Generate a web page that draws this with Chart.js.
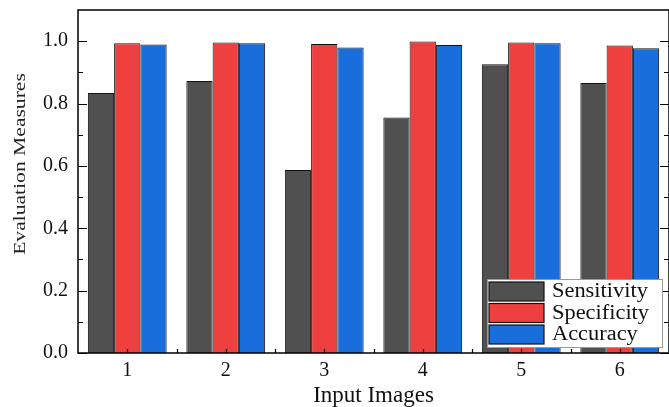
<!DOCTYPE html>
<html>
<head>
<meta charset="utf-8">
<script src="https://cdn.jsdelivr.net/npm/chart.js@4.4.1/dist/chart.umd.min.js"></script>
<style>
  html, body { margin: 0; padding: 0; background: #fff; }
  #wrap { width: 669px; height: 407px; }
</style>
</head>
<body>
<div id="wrap"><canvas id="evalChart"></canvas></div>
<script>
// data
const imageLabels = ["1", "2", "3", "4", "5", "6"];
const sensitivity = [0.834, 0.872, 0.587, 0.755, 0.926, 0.866];
const specificity = [0.993, 0.996, 0.991, 0.999, 0.996, 0.986];
const accuracy = [0.989, 0.993, 0.980, 0.988, 0.993, 0.977];

const FONT = "'Liberation Serif', 'Times New Roman', serif";

// frame, inward ticks, y title and boxed legend
const framePlugin = {
  id: "frame",
  afterDraw(chart) {
    const { ctx, chartArea: a, scales } = chart;
    const y = scales.y, x = scales.x;
    ctx.save();
    ctx.strokeStyle = "#000";
    ctx.lineWidth = 1.5;
    ctx.strokeRect(a.left, a.top, a.right - a.left, a.bottom - a.top);

    // y ticks on left and right, major every 0.2, minor every 0.1
    ctx.lineWidth = 1.2;
    for (let i = 0; i <= 10; i++) {
      const v = i / 10;
      const py = Math.round(y.getPixelForValue(v)) + 0.5;
      const len = i % 2 === 0 ? 9 : 5;
      ctx.beginPath();
      ctx.moveTo(a.left, py); ctx.lineTo(a.left + len, py);
      ctx.moveTo(a.right, py); ctx.lineTo(a.right - len, py);
      ctx.stroke();
    }
    // x ticks at category centres and boundaries
    const half = (x.getPixelForValue(1) - x.getPixelForValue(0)) / 2;
    for (let i = 0; i < imageLabels.length; i++) {
      const c = x.getPixelForValue(i);
      [c, c + half].forEach(px => {
        ctx.beginPath();
        ctx.moveTo(Math.round(px) + 0.5, a.bottom);
        ctx.lineTo(Math.round(px) + 0.5, a.bottom - 4);
        ctx.stroke();
      });
    }

    // y axis title (stretched like the original)
    ctx.save();
    ctx.translate(25, 164);
    ctx.rotate(-Math.PI / 2);
    ctx.scale(1.27, 1);
    ctx.fillStyle = "#222";
    ctx.font = "17px " + FONT;
    ctx.textAlign = "center";
    ctx.textBaseline = "alphabetic";
    ctx.fillText("Evaluation Measures", 0, 0);
    ctx.restore();

    // legend box in lower right corner
    const bw = 175, bh = 68;
    const bx = a.right - 7 - bw, by = a.bottom - 6 - bh;
    ctx.fillStyle = "#fff";
    ctx.fillRect(bx, by, bw, bh);
    ctx.strokeStyle = "#999";
    ctx.lineWidth = 1;
    ctx.strokeRect(bx + 0.5, by + 0.5, bw, bh);
    chart.data.datasets.forEach((ds, i) => {
      const sy = by + 3 + i * 21.5;
      ctx.fillStyle = ds.backgroundColor;
      ctx.fillRect(bx + 2, sy, 55, 19);
      ctx.strokeStyle = "#111";
      ctx.lineWidth = 1.2;
      ctx.strokeRect(bx + 2, sy, 55, 19);
      ctx.save();
      ctx.translate(bx + 65, sy + 10);
      ctx.scale(1.12, 1);
      ctx.font = "20px " + FONT;
      ctx.textBaseline = "middle";
      ctx.textAlign = "left";
      ctx.fillStyle = "#111";
      ctx.fillText(ds.label, 0, 0);
      ctx.restore();
    });
    ctx.restore();
  }
};

new Chart(document.getElementById("evalChart"), {
  type: "bar",
  data: {
    labels: imageLabels,
    datasets: [
      { label: "Sensitivity", data: sensitivity, backgroundColor: "#505050" },
      { label: "Specificity", data: specificity, backgroundColor: "#ef4040" },
      { label: "Accuracy", data: accuracy, backgroundColor: "#1a6edb" }
    ].map(d => ({ ...d, borderColor: "#111", borderWidth: 1, categoryPercentage: 0.8, barPercentage: 1.0 }))
  },
  options: {
    responsive: true,
    maintainAspectRatio: false,
    animation: false,
    layout: { padding: { top: 10, right: 0, left: 0, bottom: 0 } },
    plugins: {
      legend: { display: false },
      tooltip: { enabled: false }
    },
    scales: {
      x: {
        offset: true,
        grid: { display: false, drawTicks: false },
        border: { display: false },
        ticks: { color: "#111", padding: 6, font: { family: FONT, size: 20 } },
        title: { display: true, text: "Input Images", color: "#111", padding: 0, font: { family: FONT, size: 23, lineHeight: 1 } },
        afterFit: s => { s.height = 54; s.paddingLeft = 0; s.paddingRight = 0; }
      },
      y: {
        min: 0,
        max: 1.1,
        grid: { display: false, drawTicks: false },
        border: { display: false },
        ticks: {
          stepSize: 0.2,
          includeBounds: false,
          color: "#111",
          padding: 10,
          font: { family: FONT, size: 20 },
          callback: v => v.toFixed(1)
        },
        afterFit: s => { s.width = 78; s.paddingTop = 0; s.paddingBottom = 0; }
      }
    }
  },
  plugins: [framePlugin]
});
</script>
</body>
</html>
